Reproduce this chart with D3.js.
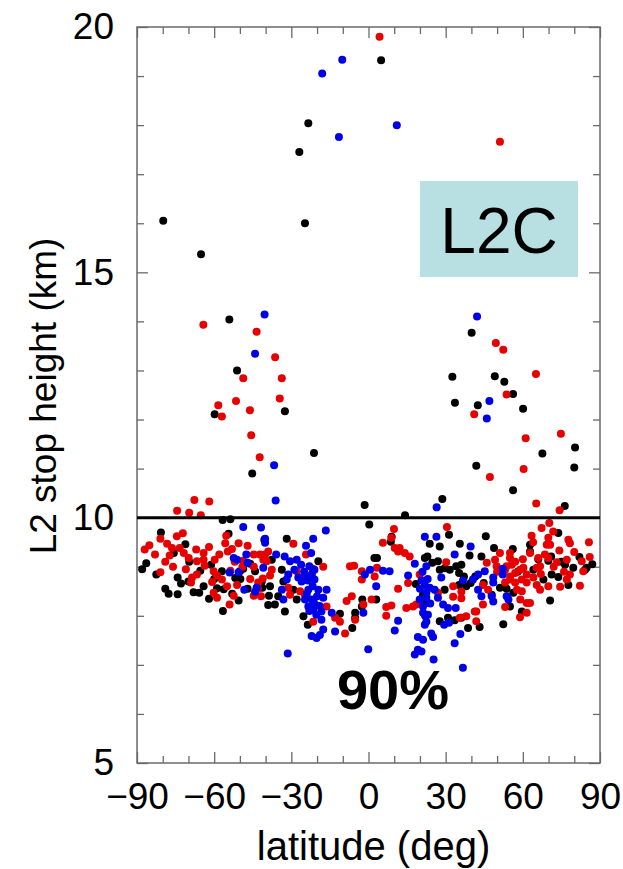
<!DOCTYPE html>
<html>
<head>
<meta charset="utf-8">
<script src="https://cdn.jsdelivr.net/npm/d3@7"></script>
<style>
  html, body { margin: 0; padding: 0; background: #fff; }
  svg { display: block; }
  text { font-family: "Liberation Sans", Arial, Helvetica, sans-serif; }
</style>
</head>
<body>
<svg id="chart" width="623" height="869"></svg>
<script>
// ---------------- data (latitude deg, L2 stop height km) ----------------
const blackPts = [
  [-79.8,16.05],[-24.7,16.0],[-65.1,15.37],[-23.4,18.04],[-26.9,17.45],[4.9,19.32],[-54.1,14.04],[-51.1,13.0],
  [-59.8,12.11],[-32.5,12.17],[-21.2,11.32],[-45.2,10.9],[-1.5,10.26],[14.2,10.05],[28.7,10.38],[40.1,13.77],
  [32.6,12.87],[49.1,12.88],[52.8,12.77],[56.2,12.52],[33.6,12.34],[42.5,12.29],[60.1,12.22],[80.3,11.43],
  [67.6,11.31],[41.9,11.06],[80,11.02],[56.2,10.56],[76.3,10.24],[-56.7,9.95],[-53.7,9.97],
  [-80.7,9.70],[-71.2,9.46],[-75.7,9.28],[-69.7,9.10],[-61.2,9.04],[-65.4,8.92],[-54.4,9.67],[-57.0,8.91],
  [-51.8,8.77],[-49.8,8.75],[-46.0,9.06],[-86.4,9.07],[-82.5,8.84],[-74.2,8.78],[-72.9,8.66],[-77.7,8.45],
  [-74.2,8.44],[-68.0,8.48],[-65.8,8.47],[-64.1,8.60],[-58.9,8.56],[-56.3,8.54],[-50.5,8.31],[-56.6,8.10],
  [-50.0,8.91],[-48.7,8.96],[-41.3,8.57],[-33.1,8.70],
  [-88,8.95],[-79,8.55],[-70,8.70],[-62,8.35],[-60,8.75],[-53,8.45],[-47,8.55],
  [-31.8,9.57],[-40.5,9.55],[-37.6,9.14],[-19.5,9.11],[-44.1,8.91],[-33.7,8.94],[-41.5,8.70],[-38.3,8.60],
  [-29.2,8.53],[-38.7,8.41],[-35.1,8.40],[-27.9,8.33],[-39.0,8.22],[-36.4,8.23],[-32.5,8.09],[-11.1,8.04],
  [-25.3,7.99],[-23.6,7.82],[-6.3,7.75],[-5.2,7.96],[-2.4,8.33],[-5.2,8.06],[2.3,9.18],[-2.6,8.19],[0.3,9.86],
  [9.0,9.61],[8.7,9.51],
  [31.3,9.65],[45.6,9.62],[23.8,9.47],[27.7,9.41],[35.5,9.47],[39.3,9.23],[43.9,9.21],[21.9,9.18],[27.0,9.11],
  [29.6,8.97],[27.7,8.94],[31.6,8.94],[34.1,9.01],[36.1,9.04],[35.2,8.87],[3.3,9.18],[18.4,8.65],[35.2,8.63],
  [38.0,8.60],[21.2,8.43],[22.5,8.26],[29.6,8.53],[3.0,8.33],[27.7,7.89],[30.9,7.96],[33.5,7.91],[36.1,7.96],
  [38.7,7.75],[43.2,7.77],[22.9,9.21],[24.8,9.08],[37.1,8.80],[39.7,8.67],[41.5,8.80],[44.8,8.67],[47.9,8.43],
  [73.8,9.69],[62.8,9.45],[62.8,9.31],[48.8,9.38],[56.1,9.36],[71.0,9.21],[69.9,9.12],[76.4,9.04],[79.6,8.98],
  [84.2,8.94],[84.8,8.98],[64.1,8.94],[68.0,8.74],[71.2,8.84],[73.8,8.79],[77.7,8.63],[51.1,8.57],[53.7,8.55],
  [56.3,8.47],[55.0,8.19],[59.6,8.09],[52.4,7.83],[70.6,8.31],
  [82,9.20],[75,9.10],[66,9.15],[58,8.90],[87,9.05]
];
const redPts = [
  [4.3,19.8],[51.1,17.66],[-64.2,13.93],[-43.5,13.79],[-36.3,13.27],[-48.7,12.84],[-33.7,12.84],[-51.5,12.38],
  [-34.5,12.43],[-58.4,12.29],[-57,12.06],[-46.1,12.19],[-45.6,11.68],[-42.3,11.23],[-67.7,10.36],[-61.9,10.33],
  [-74.4,10.14],[-69.7,10.1],[-65.2,10.05],[49.5,13.56],[52.4,13.42],[65.1,12.93],[53.7,12.51],[41.1,12.11],
  [61.1,11.62],[74.8,11.71],[60.3,10.99],[47.2,10.83],[65.2,10.29],[74.3,10.15],
  [-72.2,9.68],[-74.5,9.62],[-85.2,9.44],[-80.9,9.57],[-78.3,9.47],[-76.4,9.38],[-73.4,9.38],[-77.3,9.23],
  [-71.8,9.28],[-69.9,9.18],[-64.1,9.28],[-66.7,9.11],[-64.1,9.14],[-59.8,9.14],[-63.7,9.02],[-55.7,9.48],
  [-55.3,9.63],[-50.5,9.48],[-47.0,9.43],[-54.7,9.31],[-53.1,9.36],[-48.8,9.12],[-60.2,8.91],[-58.9,8.82],
  [-57.0,8.74],[-53.7,8.92],[-51.1,8.63],[-44.6,9.00],[-80.9,8.89],[-66.7,8.84],[-68.6,8.78],[-69.0,8.68],
  [-60.8,8.69],[-60.2,8.47],[-58.9,8.37],[-55.0,8.60],[-52.4,8.41],[-54.0,8.23],[-44.6,8.41],
  [-44.6,9.25],[-42.9,8.68],[-41.1,8.76],[-40.2,9.25],[-40.9,9.14],[-21.7,8.96],[-2.6,8.91],
  [-87,9.35],[-83,9.25],[-79,9.10],[-76,9.00],[-71,8.95],[-67,9.35],[-62,9.40],[-58,9.25],[-52,9.10],
  [-49,9.00],[-46,8.75],[-43,8.55],
  [-29.2,9.47],[-42.2,9.25],[-39.0,9.31],[-39.6,9.11],[-37.6,8.94],[-24.3,9.25],[-17.6,9.00],[-27.9,8.91],
  [-38.3,8.82],[-31.2,8.57],[-26.6,8.50],[-24.7,8.43],[-41.8,8.40],[-30.5,8.43],[-16.3,8.19],[-13.0,7.96],
  [-11.1,7.88],[-21.5,7.88],[-9.1,7.64],[-5.2,7.92],[-7.2,9.01],[-5.6,9.02],[-8.5,8.30],[-6.5,8.40],[1.2,8.33],
  [-2.0,8.23],[-2.6,8.74],
  [9.9,9.77],[30.5,9.81],[5.6,9.49],[8.9,9.59],[10.2,9.38],[12.1,9.38],[11.5,9.31],[14.1,9.28],[16.0,9.21],
  [30.2,9.09],[3.3,8.98],[19.9,8.84],[32.9,8.60],[2.4,8.80],[11.5,8.55],[15.4,8.67],[27.0,8.47],[32.9,8.39],
  [36.1,8.49],[36.1,8.36],[44.5,8.63],[46.5,8.53],[44.5,8.23],[41.9,8.09],[6.9,8.18],[8.9,8.21],[6.9,8.00],
  [14.7,8.16],[17.3,8.19],[18.6,8.23],[35.5,7.96],[38.0,7.99],[41.3,8.09],[41.9,7.89],
  [46.0,9.08],[49.8,9.01],[53.7,9.01],
  [67.3,9.79],[70.3,9.89],[71.8,9.72],[63.4,9.63],[69.9,9.59],[69.3,9.45],[70.6,9.45],[77.7,9.55],[78.3,9.48],
  [85.7,9.50],[62.8,9.28],[74.2,9.33],[51.1,9.28],[55.0,9.28],[49.2,9.14],[55.0,9.18],[55.7,9.04],[68.6,9.25],
  [69.9,9.18],[66.0,9.18],[73.2,9.09],[77.1,9.14],[82.9,9.11],[66.7,9.01],[65.4,8.98],[60.2,8.98],[58.9,8.94],
  [83.5,8.91],[53.1,8.94],[55.1,8.80],[57.0,8.87],[55.0,8.74],[53.1,8.68],[57.0,8.68],[59.6,8.74],[61.5,8.84],
  [61.5,8.68],[64.1,8.78],[65.4,8.63],[66.7,8.53],[69.9,8.60],[74.5,8.59],[77.1,8.74],[78.3,8.84],[82.2,8.61],
  [57.7,8.53],[59.6,8.50],[59.0,8.33],[61.5,8.26],[62.8,8.26],[53.1,8.18],[61.5,8.06],[58.9,7.97],
  [57,9.10],[60,9.15],[64,9.50],[72,9.00],[76,8.90],[80,9.30],[86,9.20],[67,8.85],[50,8.90]
];
const bluePts = [
  [-10.2,19.33],[-18,19.05],[11,18.0],[-11.5,17.76],[-40.4,14.14],[-44.1,13.34],[-36.7,11.07],[-36.1,10.35],
  [26.5,10.21],[42.2,14.1],[47,12.38],[46,12.02],
  [-48.7,9.81],[-52.4,9.18],[-51.1,9.14],[-47.5,9.25],[-47.0,9.08],[-54.0,8.88],[-50.5,8.89],[-48.3,8.53],
  [-44.1,8.49],
  [-41.8,9.80],[-16.6,9.74],[-40.2,9.57],[-40.2,9.49],[-24.3,9.43],[-21.5,9.57],[-35.9,9.25],[-32.6,9.21],
  [-40.9,8.98],[-30.5,9.11],[-27.9,9.14],[-22.3,9.28],[-26.2,9.04],[-23.0,9.01],[-21.0,8.94],[-28.8,8.94],
  [-31.2,8.84],[-24.7,8.80],[-31.8,8.74],[-27.3,8.78],[-23.6,8.72],[-21.0,8.74],[-21.7,8.60],[-43.5,8.57],
  [-33.7,8.53],[-23.4,8.53],[-19.5,8.53],[-16.3,8.53],[-33.1,8.33],[-24.7,8.33],[-22.1,8.33],[-17.6,8.37],
  [-23.4,8.19],[-21.5,8.12],[-18.3,8.09],[-20.3,8.02],[-14.3,8.06],[-18.3,7.92],[-17.6,7.72],[-22.1,7.59],
  [-20.2,7.55],[-18.9,7.61],[-13.0,7.68],[-31.4,7.23],[-2.0,8.06],[-0.1,7.32],[-1.4,8.84],[0.6,8.94],
  [-25.0,8.90],[-26.0,8.70],[-22.0,8.85],[-20.0,8.40],[-19.0,8.20],[-23.0,8.10],[-24.0,8.45],[-21.0,8.25],
  [21.9,9.61],[26.4,9.61],[39.7,9.41],[33.5,9.25],[18.0,9.06],[22.5,9.01],[5.6,8.92],[8.2,8.91],[15.4,8.82],
  [20.6,8.72],[21.9,8.63],[23.8,8.57],[22.5,8.47],[28.3,8.78],[25.7,8.53],[40.6,8.74],[42.6,8.84],[45.2,8.91],
  [3.0,8.60],[19.9,8.33],[22.5,8.37],[27.0,8.37],[29.0,8.23],[30.9,8.16],[33.9,8.16],[36.7,8.72],[42.6,8.53],
  [43.9,8.40],[11.5,7.90],[10.2,7.70],[21.2,8.19],[21.2,8.06],[23.1,8.02],[22.5,7.88],[21.9,7.82],[31.3,7.86],
  [29.4,7.82],[19.2,7.57],[21.2,7.51],[24.4,7.64],[25.1,7.57],[33.5,7.44],[35.7,7.63],[19.2,7.31],[18.0,7.21],
  [20.6,7.27],[25.3,7.11],[36.7,6.94],
  [21.0,8.90],[23.0,8.75],[20.0,8.55],[24.0,8.25],[22.0,8.00],
  [52.2,8.96],[52.2,8.84],[48.5,8.78],[48.5,8.68],[47.9,8.40],[48.5,8.29],[53.7,8.40],[54.4,8.33]
];
const xMajorTicks = [-90, -60, -30, 0, 30, 60, 90];
const xMinorTicks = [-80, -70, -50, -40, -20, -10, 10, 20, 40, 50, 70, 80];
const yMajorTicks = [5, 10, 15, 20];
const yMinorTicks = [6, 7, 8, 9, 11, 12, 13, 14, 16, 17, 18, 19];
const thresholdKm = 10;
const xTitle = "latitude (deg)";
const yTitle = "L2 stop height (km)";
const panelLabel = "L2C";
const percentLabel = "90%";

// ---------------- layout ----------------
const svg = d3.select("#chart");
const L = 137, R = 600, T = 27, B = 763;
const x = d3.scaleLinear().domain([-90, 90]).range([L, R]);
const y = d3.scaleLinear().domain([5, 20]).range([B, T]);
const frameColor = "#6a6a6a";

// L2C label box
const box = svg.append("g");
box.append("rect").attr("x", 420).attr("y", 181).attr("width", 158).attr("height", 96)
  .attr("fill", "#b8e0e2");
box.append("text").attr("x", 499).attr("y", 253).attr("text-anchor", "middle")
  .attr("font-size", 64).attr("fill", "#000").text(panelLabel);

// axes with inward ticks
function styleAxis(g) {
  g.select(".domain").remove();
  g.selectAll(".tick line").attr("stroke", frameColor).attr("stroke-width", 1.3);
  g.selectAll(".tick text").attr("fill", "#000").attr("font-family", '"Liberation Sans", Arial, sans-serif');
}
svg.append("g").attr("transform", `translate(0,${B})`)
  .call(d3.axisBottom(x).tickValues(xMajorTicks).tickSize(-11).tickPadding(20))
  .call(styleAxis).call(g => g.selectAll(".tick text").attr("font-size", 37));
svg.append("g").attr("transform", `translate(0,${B})`)
  .call(d3.axisBottom(x).tickValues(xMinorTicks).tickSize(-7).tickFormat(""))
  .call(styleAxis);
svg.append("g").attr("transform", `translate(0,${T})`)
  .call(d3.axisTop(x).tickValues(xMajorTicks).tickSize(-11).tickFormat(""))
  .call(styleAxis);
svg.append("g").attr("transform", `translate(0,${T})`)
  .call(d3.axisTop(x).tickValues(xMinorTicks).tickSize(-7).tickFormat(""))
  .call(styleAxis);
svg.append("g").attr("transform", `translate(${L},0)`)
  .call(d3.axisLeft(y).tickValues(yMajorTicks).tickSize(-11).tickPadding(23))
  .call(styleAxis).call(g => g.selectAll(".tick text").attr("font-size", 37));
svg.append("g").attr("transform", `translate(${L},0)`)
  .call(d3.axisLeft(y).tickValues(yMinorTicks).tickSize(-7).tickFormat(""))
  .call(styleAxis);
svg.append("g").attr("transform", `translate(${R},0)`)
  .call(d3.axisRight(y).tickValues(yMajorTicks).tickSize(-11).tickFormat(""))
  .call(styleAxis);
svg.append("g").attr("transform", `translate(${R},0)`)
  .call(d3.axisRight(y).tickValues(yMinorTicks).tickSize(-7).tickFormat(""))
  .call(styleAxis);

// frame
svg.append("rect").attr("x", L).attr("y", T).attr("width", R - L).attr("height", B - T)
  .attr("fill", "none").attr("stroke", frameColor).attr("stroke-width", 1.5);

// points
const series = [
  { pts: blackPts, color: "#000000" },
  { pts: redPts, color: "#e60000" },
  { pts: bluePts, color: "#0000e6" }
];
series.forEach(s => {
  svg.append("g").selectAll("circle").data(s.pts).join("circle")
    .attr("cx", d => x(d[0])).attr("cy", d => y(d[1])).attr("r", 4)
    .attr("fill", s.color);
});

// threshold line
svg.append("line").attr("x1", x(-90)).attr("x2", x(90))
  .attr("y1", y(thresholdKm)).attr("y2", y(thresholdKm))
  .attr("stroke", "#000").attr("stroke-width", 3);

// 90% label
svg.append("text").attr("x", 393).attr("y", 709).attr("text-anchor", "middle")
  .attr("font-size", 56).attr("font-weight", "bold").attr("fill", "#000").text(percentLabel);

// axis titles
svg.append("text").attr("x", (L + R) / 2 + 5).attr("y", 860).attr("text-anchor", "middle")
  .attr("font-size", 40).attr("fill", "#000").text(xTitle);
svg.append("text").attr("transform", "translate(56,396) rotate(-90)").attr("text-anchor", "middle")
  .attr("font-size", 37).attr("fill", "#000").text(yTitle);
</script>
</body>
</html>
